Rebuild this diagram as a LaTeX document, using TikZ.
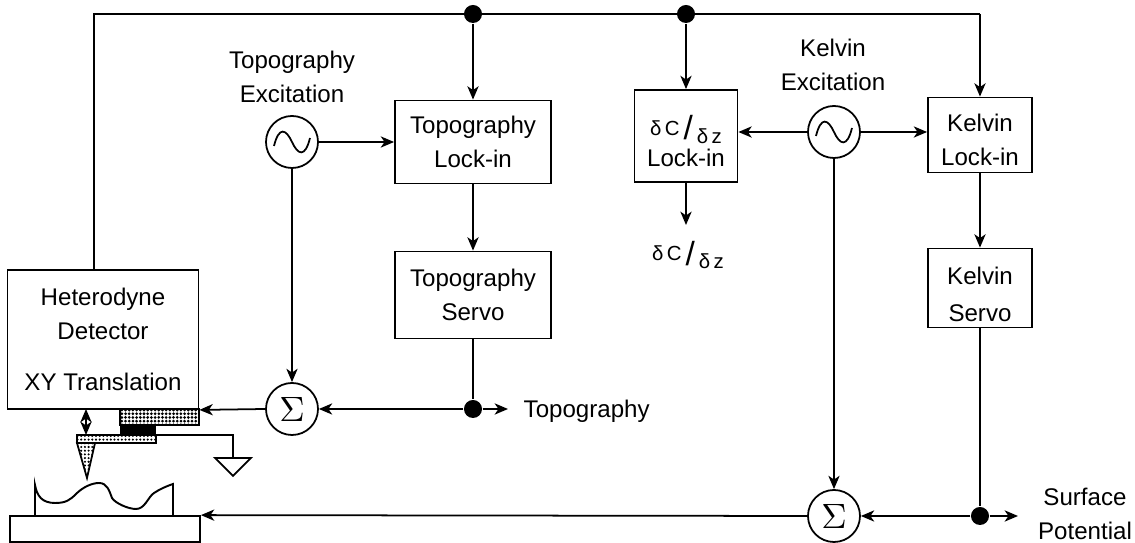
\documentclass[tikz,border=0pt]{standalone}
\usepackage{fontspec}
\setmainfont{Liberation Sans}
\usetikzlibrary{calc,arrows.meta,patterns.meta}
\newcommand{\dCdz}{\raisebox{.35ex}{\fontsize{5.8}{6}\selectfont δ\,C}\,{\fontsize{9.5}{9}\selectfont /}\,\raisebox{-.3ex}{\fontsize{5.8}{6}\selectfont δ\,z}}
\tikzset{
  blockbox/.style={draw,line width=.5pt,align=center,inner sep=0pt},
  srcnode/.style={draw,circle,line width=.5pt,minimum size=.52cm,inner sep=0pt},
  dotnode/.style={fill=black,circle,minimum size=.18cm,inner sep=0pt},
  lbl/.style={align=center,inner sep=0pt},
  wire/.style={line width=.5pt},
  piezofill/.style={pattern={Dots[distance=1.05pt,radius=.43pt]}},
  leverfill/.style={pattern={Dots[distance=1.05pt,radius=.33pt]}}
}
\begin{document}
\begin{tikzpicture}[x=.01cm,y=-.01cm,>={Stealth[length=3.8pt,width=3.2pt,inset=1.1pt]},
    font=\fontsize{6.85}{9.7}\selectfont,line cap=butt]
  \useasboundingbox (0,0) rectangle (1135,543);
  % blocks
  \node[blockbox,minimum width=1.56cm,minimum height=.83cm] (topolock) at (473,142) {Topography\\Lock-in};
  \node[blockbox,minimum width=1.56cm,minimum height=.87cm] (toposervo) at (473,295) {Topography\\Servo};
  \node[blockbox,minimum width=1.03cm,minimum height=.92cm] (dclock) at (686,136) {\rule{0pt}{10pt}\dCdz\\[-2pt]Lock-in};
  \node[blockbox,minimum width=1.04cm,minimum height=.75cm] (kelvinlock) at (980,135) {\rule{0pt}{7.6pt}Kelvin\\Lock-in};
  \node[blockbox,minimum width=1.04cm,minimum height=.79cm] (kelvinservo) at (980,288) {\rule{0pt}{8.5pt}Kelvin\\[.7pt]Servo};
  \node[blockbox,minimum width=1.91cm,minimum height=1.39cm] (hetero) at (103,339.5) {Heterodyne\\Detector\\[4.8pt]XY Translation};
  \node[blockbox,minimum width=1.9cm,minimum height=.26cm] (stage) at (105,529) {};
  % sources and summers
  \node[srcnode] (osctopo) at (292,142) {};
  \node[srcnode] (osckelvin) at (834,132) {};
  \node[srcnode] (sumtopo) at (292,409) {\fontsize{10}{10}\selectfont$\Sigma$};
  \node[srcnode] (sumkelvin) at (834,516) {\fontsize{10}{10}\selectfont$\Sigma$};
  \foreach \src in {osctopo,osckelvin}{
    \draw[wire] ($(\src)+(-18,4)$) .. controls ($(\src)+(-13,-16)$) and ($(\src)+(-6,-13)$) .. (\src.center)
      .. controls ($(\src)+(6,13)$) and ($(\src)+(13,16)$) .. ($(\src)+(18,-4)$);
  }
  % junctions
  \node[dotnode] (topdot) at (473,14) {};
  \node[dotnode] (dcdot) at (686,14) {};
  \node[dotnode] (servodot) at (473,409) {};
  \node[dotnode] (surfdot) at (980,516) {};
  \coordinate (topleft) at (94,14);
  \coordinate (topright) at (980,14);
  \coordinate (topoend) at (508,409);
  \coordinate (surfend) at (1018,516);
  \coordinate (dcend) at (686,225);
  % labels
  \node[lbl] (topoexc) at (292,77) {Topography\\Excitation};
  \node[lbl] (kelvinexc) at (833,65) {Kelvin\\Excitation};
  \node[lbl] (dcout) at (688,255) {\dCdz};
  \node[lbl,anchor=west] (topoout) at (523,411) {Topography};
  \node[lbl] (surfout) at (1085,514) {Surface\\Potential};
  % connectors
  \draw[wire] (hetero.north -| topleft) -- (topleft) -- (topright);
  \draw[wire,->] (topright) -- (kelvinlock.north);
  \draw[wire,->] (topdot) -- (topolock.north);
  \draw[wire,->] (dcdot) -- (dclock.north);
  \draw[wire,->] (osctopo.east) -- (topolock.west);
  \draw[wire,->] (topolock.south) -- (toposervo.north);
  \draw[wire,->] (osctopo.south) -- (sumtopo.north);
  \draw[wire] (toposervo.south) -- (servodot);
  \draw[wire,->] (servodot) -- (sumtopo.east);
  \draw[wire,->] (servodot) -- (topoend);
  \draw[wire,->] (sumtopo.west) -- (hetero.south east);
  \draw[wire,->] (dclock.south) -- (dcend);
  \draw[wire,->] (osckelvin.west) -- (osckelvin.west -| dclock.east);
  \draw[wire,->] (osckelvin.east) -- (osckelvin.east -| kelvinlock.west);
  \draw[wire,->] (osckelvin.south) -- (sumkelvin.north);
  \draw[wire,->] (kelvinlock.south) -- (kelvinservo.north);
  \draw[wire] (kelvinservo.south) -- (surfdot);
  \draw[wire,->] (surfdot) -- (sumkelvin.east);
  \draw[wire,->] (surfdot) -- (surfend);
  \draw[wire,->] (sumkelvin.west) -- (stage.north east);
  % probe and sample
  \fill[black] (120,425) rectangle (156,436);
  \fill[piezofill] (120,409) rectangle (199,425);
  \draw[wire] (120,409) rectangle (199,425);
  \draw[wire,leverfill] (77,435) rectangle (156,443);
  \draw[wire,leverfill,line join=miter] (77,443) -- (95,443) -- (87,478) -- cycle;
  \draw[wire,<->] (86,409) -- (86,435);
  \draw[wire] (156,435) -- (233,435) -- (233,458);
  \draw[wire] (215,458) -- (251,458) -- (233,476) -- cycle;
  \draw[line width=.55pt] (35,516) -- (35,485) .. controls (37,496) and (42,503) .. (55,503)
    .. controls (66,503) and (70,500) .. (76,494)
    .. controls (83,487) and (92,483) .. (99,483)
    .. controls (107,483) and (109,490) .. (112,498)
    .. controls (115,503) and (128,509) .. (136,509)
    .. controls (145,509) and (148,497) .. (154,493)
    .. controls (160,489) and (167,486) .. (173,484) -- (173,516);
\end{tikzpicture}
\end{document}
